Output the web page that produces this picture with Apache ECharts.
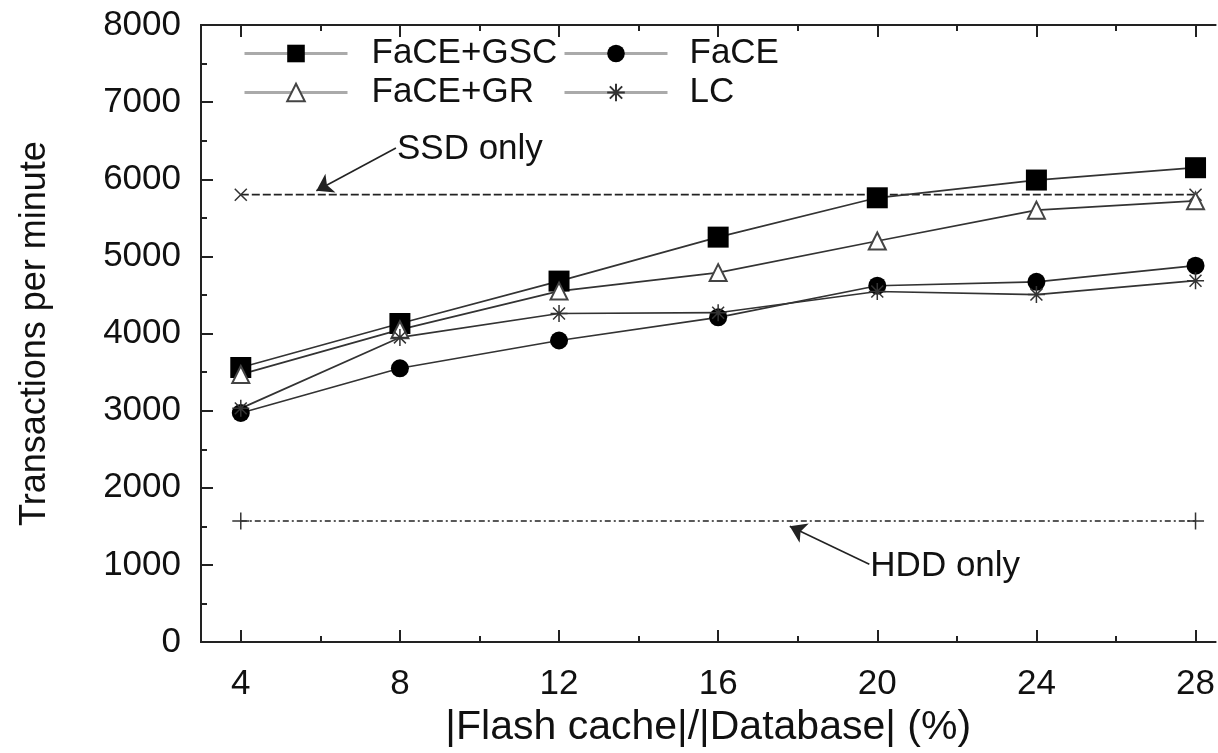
<!DOCTYPE html>
<html>
<head>
<meta charset="utf-8">
<script src="https://cdn.jsdelivr.net/npm/echarts@6/dist/echarts.min.js"></script>
<style>
html,body{margin:0;padding:0;background:#fff;}
#chart{width:1218px;height:753px;}
</style>
</head>
<body>
<div id="chart"></div>
<script>
// ---- data ----
var xValues = [4, 8, 12, 16, 20, 24, 28];
var faceGsc = [3560, 4130, 4680, 5250, 5760, 5990, 6150];
var faceGr  = [3470, 4050, 4550, 4790, 5200, 5600, 5720];
var face    = [2970, 3550, 3910, 4210, 4620, 4670, 4880];
var lc      = [3030, 3950, 4260, 4270, 4545, 4505, 4685];
var ssdOnly = 5800;
var hddOnly = 1570;
var xTickMajor = [4, 8, 12, 16, 20, 24, 28];
var xTickMinor = [6, 10, 14, 18, 22, 26];
var ssdArrow = [[7.9, 6405], [5.9, 5851]];
var hddArrow = [[19.8, 1010], [17.8, 1502]];
var ssdLabelAt = [7.85, 6382];
var hddLabelAt = [19.75, 984];

function pairs(ys) { return xValues.map(function (x, i) { return [x, ys[i]]; }); }
function flat(v) { return [[xValues[0], v], [xValues[xValues.length - 1], v]]; }

var FONT = 'Liberation Sans, Arial, Helvetica, sans-serif';
var INK = '#222';
var LINE = '#333';
var PLUS = 'path://M0,50L100,50M50,0L50,100';
var STAR = 'path://M0,50L100,50M50,0L50,100M15,15L85,85M85,15L15,85';
var FS = 35;

var chart = echarts.init(document.getElementById('chart'), null, {renderer: 'canvas'});

function xAxisDef(pos, ticks, len, labels) {
  return {
    type: 'value', min: 3, max: 28.5, position: pos,
    axisLine: {show: true, onZero: false, lineStyle: {color: INK, width: 2}},
    axisTick: {show: true, inside: true, length: len, customValues: ticks, lineStyle: {color: INK, width: 2}},
    axisLabel: labels ? {show: true, customValues: ticks, fontSize: FS, fontFamily: FONT, color: '#111', margin: 25} : {show: false},
    splitLine: {show: false}
  };
}

var xAxes = [
  xAxisDef('bottom', xTickMajor, 12, true),
  xAxisDef('bottom', xTickMinor, 6, false),
  xAxisDef('top', xTickMajor, 12, false),
  xAxisDef('top', xTickMinor, 6, false)
];
xAxes[0].name = '|Flash cache|/|Database| (%)';
xAxes[0].nameLocation = 'middle';
xAxes[0].nameGap = 56;
xAxes[0].nameTextStyle = {fontSize: 41, fontFamily: FONT, color: '#111'};

function lineSeries(name, ys, symbol, size, itemStyle) {
  return {
    name: name, type: 'line', data: pairs(ys), xAxisIndex: 0,
    symbol: symbol, symbolSize: size,
    lineStyle: {color: LINE, width: 1.7},
    itemStyle: itemStyle,
    z: 3
  };
}

var option = {
  animation: false,
  backgroundColor: '#fff',
  grid: {left: 201, right: -3, top: 25, bottom: 110, containLabel: false},
  xAxis: xAxes,
  yAxis: {
    type: 'value', min: 0, max: 8000, interval: 1000,
    name: 'Transactions per minute', nameLocation: 'middle', nameRotate: 90, nameGap: 148,
    nameTextStyle: {fontSize: 36, fontFamily: FONT, color: '#111'},
    axisLine: {show: true, lineStyle: {color: INK, width: 2}},
    axisTick: {show: true, inside: true, length: 12, lineStyle: {color: INK, width: 2}},
    minorTick: {show: true, splitNumber: 2, length: 6, lineStyle: {color: INK, width: 2}},
    axisLabel: {fontSize: FS, fontFamily: FONT, color: '#111', margin: 20, formatter: function (v) { return String(v); }},
    splitLine: {show: false}
  },
  legend: [
    {
      data: ['FaCE+GSC', 'FaCE+GR'], orient: 'vertical', left: 243, top: 36, padding: 0,
      itemWidth: 103, itemHeight: 22, itemGap: 4,
      lineStyle: {color: '#aaa', width: 3},
      textStyle: {fontSize: 35, lineHeight: 34, fontFamily: FONT, color: '#111', padding: [0, 0, 0, 19]}
    },
    {
      data: ['FaCE', 'LC'], orient: 'vertical', left: 563, top: 36, padding: 0,
      itemWidth: 103, itemHeight: 22, itemGap: 4,
      lineStyle: {color: '#aaa', width: 3},
      textStyle: {fontSize: 35, lineHeight: 34, fontFamily: FONT, color: '#111', padding: [0, 0, 0, 17]}
    }
  ],
  series: [
    lineSeries('FaCE+GSC', faceGsc, 'rect', 21, {color: '#000'}),
    lineSeries('FaCE', face, 'circle', 18, {color: '#000'}),
    lineSeries('FaCE+GR', faceGr, 'emptyTriangle', 17, {color: '#444', borderWidth: 1.5}),
    lineSeries('LC', lc, STAR, 17, {color: '#333', borderColor: '#333', borderWidth: 1.5}),
    {
      name: 'SSD only', type: 'line', data: flat(ssdOnly), symbol: PLUS, symbolRotate: 45, symbolSize: 17,
      lineStyle: {color: INK, width: 1.8, type: [8, 3]},
      itemStyle: {color: '#333', borderColor: '#333', borderWidth: 1.5},
      z: 2,
      markLine: {
        silent: true, animation: false, symbol: ['none', 'arrow'], symbolSize: 16,
        lineStyle: {color: INK, width: 1.6, type: 'solid'}, label: {show: false},
        data: [
          [{coord: ssdArrow[0]}, {coord: ssdArrow[1]}],
          [{coord: hddArrow[0]}, {coord: hddArrow[1]}]
        ]
      },
      markPoint: {
        silent: true, animation: false, symbol: 'circle', symbolSize: 0,
        label: {show: true, position: 'right', distance: 3, fontSize: 35, fontFamily: FONT, color: '#111'},
        data: [
          {coord: ssdLabelAt, label: {formatter: 'SSD only'}},
          {coord: hddLabelAt, label: {formatter: 'HDD only'}}
        ]
      }
    },
    {
      name: 'HDD only', type: 'line', data: flat(hddOnly), symbol: PLUS, symbolSize: 17,
      lineStyle: {color: INK, width: 1.6, type: [6, 3, 2, 3]},
      itemStyle: {color: '#333', borderColor: '#333', borderWidth: 1.5},
      z: 2
    }
  ]
};
chart.setOption(option);
</script>
</body>
</html>
